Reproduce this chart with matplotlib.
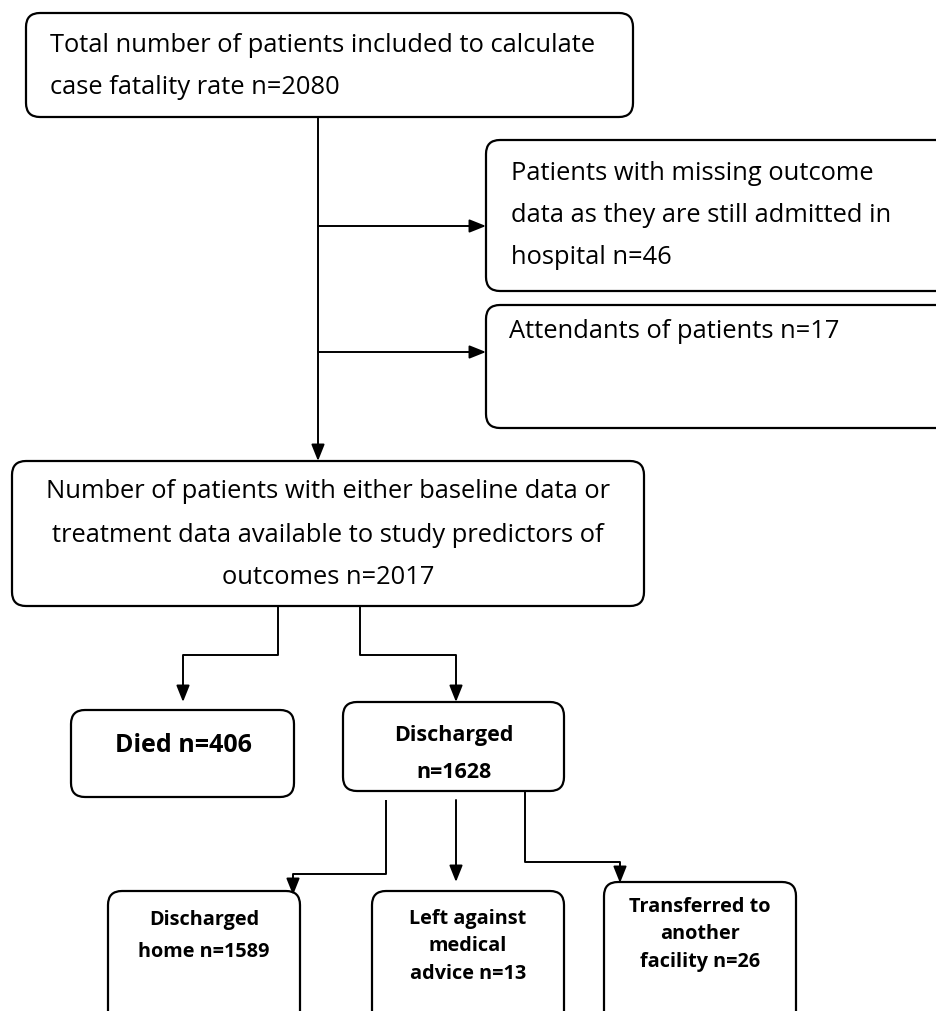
import matplotlib
matplotlib.use("Agg")
import matplotlib.pyplot as plt
from matplotlib.patches import FancyBboxPatch
from matplotlib import font_manager

names = {f.name for f in font_manager.fontManager.ttflist}
FONT = [f for f in ["Liberation Sans Narrow", "Open Sans", "DejaVu Sans"] if f in names]
plt.rcParams['font.family'] = FONT

# ---- data ----
total_n = 2080
missing_n = 46
attendants_n = 17
analysed_n = 2017
died_n = 406
discharged_n = 1628
home_n = 1589
lama_n = 13
transferred_n = 26

fig = plt.figure(figsize=(9.36, 10.11), dpi=100)
ax = fig.add_axes([0, 0, 1, 1])
ax.set_xlim(0, 936)
ax.set_ylim(1011, 0)
ax.axis('off')

def box(x0, y0, x1, y1, r=14):
    p = FancyBboxPatch((x0 + r, y0 + r), (x1 - x0) - 2 * r, (y1 - y0) - 2 * r,
                       boxstyle=f"round,pad={r}", fc='white', ec='black', lw=1.6)
    ax.add_patch(p)

def line(pts):
    xs, ys = zip(*pts)
    ax.plot(xs, ys, color='black', lw=1.4, solid_capstyle='butt')

def arrow(p0, p1):
    ax.annotate('', xy=p1, xytext=p0,
                arrowprops=dict(arrowstyle='-|>,head_length=1.0,head_width=0.4',
                                color='black', lw=1.4, shrinkA=0, shrinkB=0))

# boxes
box(26, 13, 633, 117)
box(486, 140, 950, 291)
box(486, 305, 950, 428)
box(12, 461, 644, 606)
box(71, 710, 294, 797)
box(343, 702, 564, 791)
box(108, 891, 300, 1040)
box(372, 891, 564, 1040)
box(604, 882, 796, 1040)

fs = 18.4
ax.text(50, 45, "Total number of patients included to calculate", fontsize=fs, va='center', ha='left')
ax.text(50, 87, f"case fatality rate n={total_n}", fontsize=fs, va='center', ha='left')

ax.text(511, 174, "Patients with missing outcome", fontsize=fs, va='center', ha='left')
ax.text(511, 216, "data as they are still admitted in", fontsize=fs, va='center', ha='left')
ax.text(511, 258, f"hospital n={missing_n}", fontsize=fs, va='center', ha='left')

ax.text(509, 331, f"Attendants of patients n={attendants_n}", fontsize=fs, va='center', ha='left')

ax.text(328, 492, "Number of patients with either baseline data or", fontsize=fs, va='center', ha='center')
ax.text(328, 535, "treatment data available to study predictors of", fontsize=fs, va='center', ha='center')
ax.text(328, 577, f"outcomes n={analysed_n}", fontsize=fs, va='center', ha='center')

ax.text(183, 745, f"Died n={died_n}", fontsize=18, va='center', ha='center', fontweight='bold')
ax.text(454, 735, "Discharged", fontsize=15.5, va='center', ha='center', fontweight='bold')
ax.text(454, 773, f"n={discharged_n}", fontsize=15.5, va='center', ha='center', fontweight='bold')

fs2 = 14.3
ax.text(204, 920, "Discharged", fontsize=fs2, va='center', ha='center', fontweight='bold')
ax.text(204, 952, f"home n={home_n}", fontsize=fs2, va='center', ha='center', fontweight='bold')
ax.text(468, 919, "Left against", fontsize=fs2, va='center', ha='center', fontweight='bold')
ax.text(468, 946, "medical", fontsize=fs2, va='center', ha='center', fontweight='bold')
ax.text(468, 974, f"advice n={lama_n}", fontsize=fs2, va='center', ha='center', fontweight='bold')
ax.text(700, 907, "Transferred to", fontsize=fs2, va='center', ha='center', fontweight='bold')
ax.text(700, 934, "another", fontsize=fs2, va='center', ha='center', fontweight='bold')
ax.text(700, 962, f"facility n={transferred_n}", fontsize=fs2, va='center', ha='center', fontweight='bold')

# connectors
arrow((318, 117), (318, 461))
arrow((318, 226), (486, 226))
arrow((318, 352), (486, 352))

line([(278, 606), (278, 655), (183, 655)])
arrow((183, 655), (183, 702))
line([(360, 606), (360, 655), (456, 655)])
arrow((456, 655), (456, 702))

line([(386, 800), (386, 874), (293, 874)])
arrow((293, 874), (293, 895))
arrow((456, 800), (456, 882))
line([(525, 790), (525, 862), (620, 862)])
arrow((620, 862), (620, 883))

fig.savefig("out.png", dpi=100)
